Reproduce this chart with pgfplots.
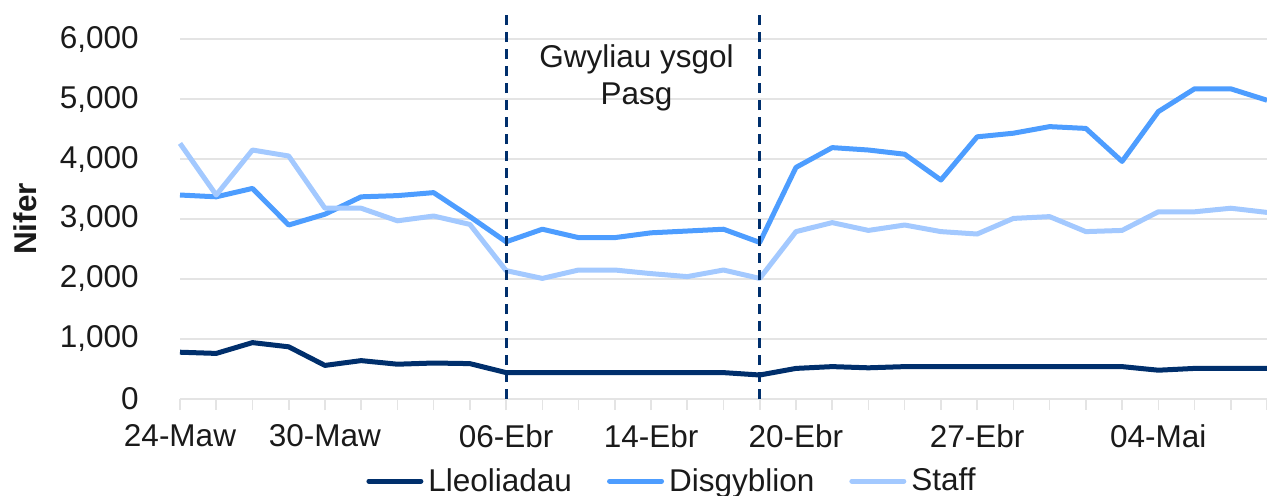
\documentclass[border=0pt]{standalone}
\usepackage{pgfplots}
\pgfplotsset{compat=1.18}
\usepackage{fontspec}
\setmainfont{Liberation Sans}
\definecolor{cDark}{HTML}{002F6C}
\definecolor{cMid}{HTML}{4D9DFF}
\definecolor{cLight}{HTML}{A3C9FF}
\definecolor{cGrid}{HTML}{E4E4E4}
\definecolor{cText}{HTML}{1A1A1A}

\pgfplotstableread{
idx lle dis sta
0  780 3400 4260
1  760 3370 3400
2  940 3510 4150
3  870 2900 4050
4  560 3080 3180
5  640 3370 3180
6  580 3390 2970
7  600 3440 3050
8  590 3040 2910
9  440 2620 2140
10 440 2830 2010
11 440 2690 2150
12 440 2690 2150
13 440 2770 2090
14 440 2800 2040
15 440 2830 2150
16 400 2610 2010
17 510 3860 2790
18 540 4190 2940
19 520 4150 2810
20 540 4080 2900
21 540 3650 2790
22 540 4370 2750
23 540 4430 3010
24 540 4540 3040
25 540 4510 2790
26 540 3960 2810
27 480 4790 3120
28 510 5170 3120
29 510 5170 3180
30 510 4980 3110
}\datatable

\begin{document}
\begin{tikzpicture}[font=\fontsize{15.75}{18.5}\selectfont, text=cText]
\path[use as bounding box] (-90pt,-48pt) rectangle (543.5pt,199.5pt);
\begin{axis}[
  at={(0pt,0pt)}, anchor=south west,
  scale only axis, width=543.5pt, height=180pt,
  xmin=0, xmax=30, ymin=0, ymax=6000, clip=false,
  axis lines*=left,
  x axis line style={draw=cGrid, line width=0.8pt, -},
  y axis line style={draw=none},
  ytick={0,1000,...,6000},
  yticklabels={0,{1,000},{2,000},{3,000},{4,000},{5,000},{6,000}},
  ymajorgrids, grid style={draw=cGrid, line width=0.8pt},
  ytick style={draw=none},
  yticklabel style={inner sep=0pt, anchor=east, xshift=-15pt},
  xtick={0,4,9,13,17,22,27},
  xticklabels={24-Maw,30-Maw,06-Ebr,14-Ebr,20-Ebr,27-Ebr,04-Mai},
  minor xtick={0,...,30},
  tick align=outside,
  major tick length=5.5pt, minor tick length=5.5pt,
  xtick style={draw=cGrid, line width=0.8pt},
  xticklabel style={inner sep=0pt, anchor=north, yshift=-7pt},
  ylabel={Nifer},
  ylabel style={font=\fontsize{15.75}{18.5}\selectfont\bfseries, at={(axis description cs:-0.1426,0.5)}, anchor=center, rotate=0},
  legend style={at={(rel axis cs:0.454,-0.228)}, anchor=center, draw=none, fill=none,
    legend columns=3, /tikz/every even column/.append style={column sep=15pt},
    inner sep=0pt, nodes={inner sep=2.5pt}},
  legend image code/.code={\draw[#1, line width=2.5pt, line cap=round] (0pt,0pt) -- (26pt,0pt);},
]
\addplot[cDark, line width=2.5pt, line join=round] table[x=idx, y=lle] {\datatable};
\addlegendentry{Lleoliadau}
\addplot[cMid, line width=2.5pt, line join=round] table[x=idx, y=dis] {\datatable};
\addlegendentry{Disgyblion}
\addplot[cLight, line width=2.5pt, line join=round] table[x=idx, y=sta] {\datatable};
\addlegendentry{Staff}
\addplot[cDark, line width=1.4pt, dash pattern=on 5pt off 3.5pt, forget plot] coordinates {(9,0) (9,6400)};
\addplot[cDark, line width=1.4pt, dash pattern=on 5pt off 3.5pt, forget plot] coordinates {(16,0) (16,6400)};
\node[align=center, font=\fontsize{15.75}{18.5}\selectfont] at (axis cs:12.6,5350) {Gwyliau ysgol\\Pasg};
\end{axis}
\end{tikzpicture}
\end{document}
